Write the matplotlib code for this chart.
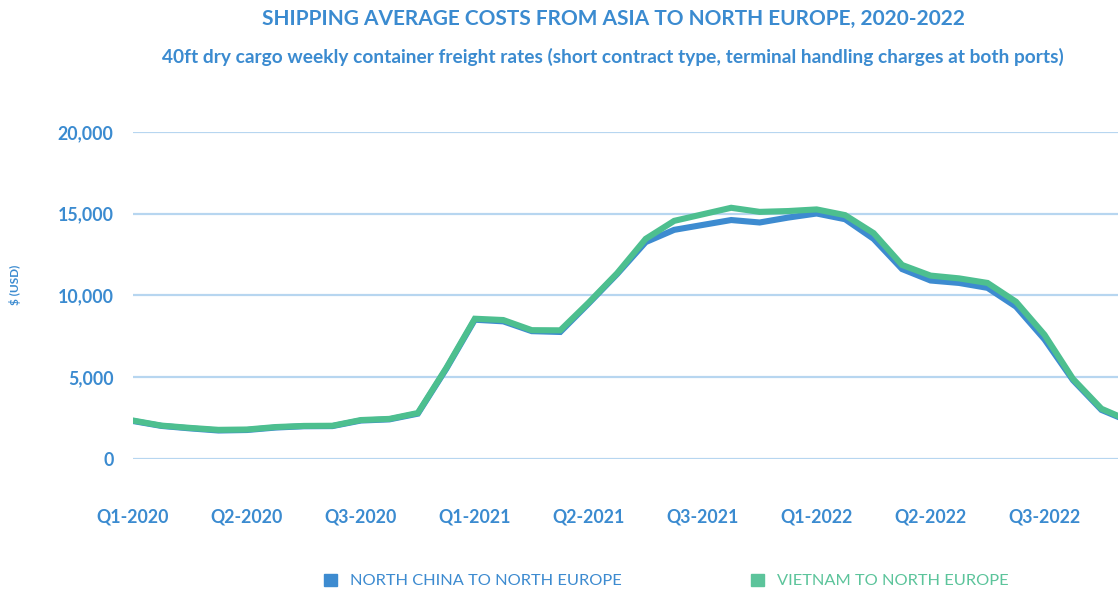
import matplotlib
matplotlib.use("Agg")
import matplotlib.pyplot as plt
from matplotlib.patches import Patch

# weekly-ish sample points, 4 per quarter
north_china = [2300, 2000, 1850, 1720, 1750, 1900, 1980, 1990, 2330, 2400, 2750,
               5500, 8500, 8400, 7800, 7750, 9500, 11300, 13250, 14000, 14300,
               14600, 14450, 14750, 15000, 14650, 13450, 11600, 10900, 10750,
               10450, 9300, 7300, 4800, 2980, 2250]
vietnam = [2330, 2020, 1880, 1760, 1780, 1930, 2000, 2010, 2360, 2430, 2790,
           5550, 8560, 8480, 7860, 7850, 9550, 11350, 13450, 14550, 14950,
           15350, 15100, 15150, 15250, 14900, 13800, 11850, 11200, 11030,
           10750, 9600, 7580, 4880, 3050, 2300]
tick_idx = [0, 4, 8, 12, 16, 20, 24, 28, 32]
tick_labels = ["Q1-2020", "Q2-2020", "Q3-2020", "Q1-2021", "Q2-2021",
               "Q3-2021", "Q1-2022", "Q2-2022", "Q3-2022"]
y_ticks = [0, 5000, 10000, 15000, 20000]

blue = "#3d8bd0"
green = "#4dbf8f"
text_blue = "#3b8bd0"

plt.rcParams['font.family'] = ['Lato', 'DejaVu Sans']

W, H = 1118, 591
fig = plt.figure(figsize=(W / 100, H / 100), dpi=100)
# axes: x index 0 at 133px, clipped at right edge; y 0 at 458.6px, 20000 at 131.8px
x_right = 34.62
ax = fig.add_axes([133 / W, (H - 458.6) / H, (W - 133) / W + 0.001, (458.6 - 131.8) / H])

x = list(range(len(north_china)))
ax.plot(x, north_china, color=blue, lw=4.4, solid_joinstyle='miter', clip_on=True)
ax.plot(x, vietnam, color=green, lw=4.4, solid_joinstyle='miter', clip_on=True)

ax.set_xlim(0, x_right)
ax.set_ylim(0, 20000)
ax.set_yticks(y_ticks)
ax.set_yticklabels([f"{v:,}" for v in y_ticks])
ax.set_xticks(tick_idx)
ax.set_xticklabels(tick_labels)
ax.grid(axis='y', color="#b7d6f0", lw=1.6)
ax.set_axisbelow(True)
for s in ax.spines.values():
    s.set_visible(False)
ax.tick_params(axis='both', length=0, colors=text_blue, labelsize=12.8)
ax.tick_params(axis='y', pad=14)
ax.tick_params(axis='x', pad=36)
for lbl in ax.get_xticklabels() + ax.get_yticklabels():
    lbl.set_fontweight('bold')
    lbl.set_color(text_blue)

fig.text(15 / W, 1 - 285 / H, "$ (USD)", rotation=90, ha='center', va='center',
         color=text_blue, fontsize=8.5, fontweight='bold')

fig.text(613 / W, 1 - 19 / H, "SHIPPING AVERAGE COSTS FROM ASIA TO NORTH EUROPE, 2020-2022",
         ha='center', va='center', color=text_blue, fontsize=15, fontweight='bold')
fig.text(613 / W, 1 - 57 / H,
         "40ft dry cargo weekly container freight rates (short contract type, terminal handling charges at both ports)",
         ha='center', va='center', color=text_blue, fontsize=13.8, fontweight='bold')

leg1 = fig.legend(handles=[Patch(color=blue, label="NORTH CHINA TO NORTH EUROPE")],
                  loc='center left', bbox_to_anchor=(309 / W, 1 - 581 / H), frameon=False,
                  handlelength=0.8, handleheight=0.8, handletextpad=0.8, fontsize=11.8,
                  labelcolor=blue)
leg2 = fig.legend(handles=[Patch(color="#5cc49b", label="VIETNAM TO NORTH EUROPE")],
                  loc='center left', bbox_to_anchor=(736 / W, 1 - 581 / H), frameon=False,
                  handlelength=0.8, handleheight=0.8, handletextpad=0.8, fontsize=11.8,
                  labelcolor="#5cc49b")

fig.savefig("out.png", dpi=100)
